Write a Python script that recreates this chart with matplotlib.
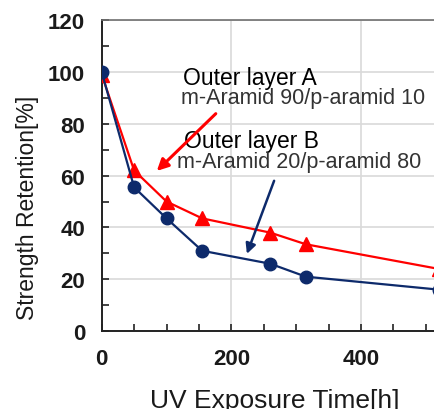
import matplotlib.pyplot as plt
from matplotlib.ticker import MultipleLocator

plt.rcParams['font.family'] = ['Liberation Sans', 'DejaVu Sans']

# UV exposure test results
hours = [0, 50, 100, 155, 260, 315, 520]
layer_a = [99, 62, 50, 43.5, 38, 33.5, 24]   # m-Aramid 90 / p-aramid 10
layer_b = [100, 55.5, 43.5, 31, 26, 21, 16]  # m-Aramid 20 / p-aramid 80
x_ticks = [0, 200, 400]

red = '#ff0000'
navy = '#0d2a6b'

fig = plt.figure(figsize=(4.35, 4.10), dpi=100)
# axes run past the right edge of the figure on purpose
ax = fig.add_axes([0.2338, 0.190, 0.894, 0.7585])

ax.plot(hours, layer_a, color=red, lw=1.6, marker='^', ms=10, zorder=3)
ax.plot(hours, layer_b, color=navy, lw=1.6, marker='o', ms=9, zorder=4)

ax.set_xlim(0, 600)
ax.set_ylim(0, 120)
ax.set_xticks(x_ticks)
ax.xaxis.set_minor_locator(MultipleLocator(50))
ax.yaxis.set_major_locator(MultipleLocator(20))
ax.yaxis.set_minor_locator(MultipleLocator(10))
ax.tick_params(which='both', direction='in', length=5, width=1.2, color='#222222')
ax.tick_params(axis='both', which='major', labelsize=16, pad=12, labelcolor='#1a1a1a')
for lab in ax.get_xticklabels() + ax.get_yticklabels():
    lab.set_fontweight('bold')

ax.grid(True, which='major', color='#d9d9d9', lw=1.2, zorder=0)
ax.set_axisbelow(True)
for side in ['left', 'bottom']:
    ax.spines[side].set_color('#222222')
    ax.spines[side].set_linewidth(1.4)
ax.spines['top'].set_color('#707070')
ax.spines['top'].set_linewidth(1.2)
ax.spines['right'].set_color('#707070')

ax.set_ylabel('Strength Retention[%]', fontsize=16.5, color='#1a1a1a')
ax.yaxis.set_label_coords(-0.192, 0.399)
ax.yaxis.label.set_verticalalignment('center')
ax.set_xlabel('UV Exposure Time[h]', fontsize=19, color='#1a1a1a')
ax.xaxis.set_label_coords(0.446, -0.183)

ax.text(125, 95.5, 'Outer layer A', fontsize=16.5, color='black')
ax.text(122, 88.2, 'm-Aramid 90/p-aramid 10', fontsize=15.5, color='#333333')
ax.text(127, 71.1, 'Outer layer B', fontsize=16.5, color='black')
ax.text(116, 63.2, 'm-Aramid 20/p-aramid 80', fontsize=15.5, color='#333333')

ax.annotate('', xy=(85, 61.8), xytext=(176, 83.9),
            arrowprops=dict(arrowstyle='-|>', color=red, lw=2.2,
                            mutation_scale=17, shrinkA=0, shrinkB=0))
ax.annotate('', xy=(224, 29.8), xytext=(266, 58),
            arrowprops=dict(arrowstyle='-|>', color=navy, lw=1.8,
                            mutation_scale=15, shrinkA=0, shrinkB=0))

fig.savefig('out.png', dpi=100)
